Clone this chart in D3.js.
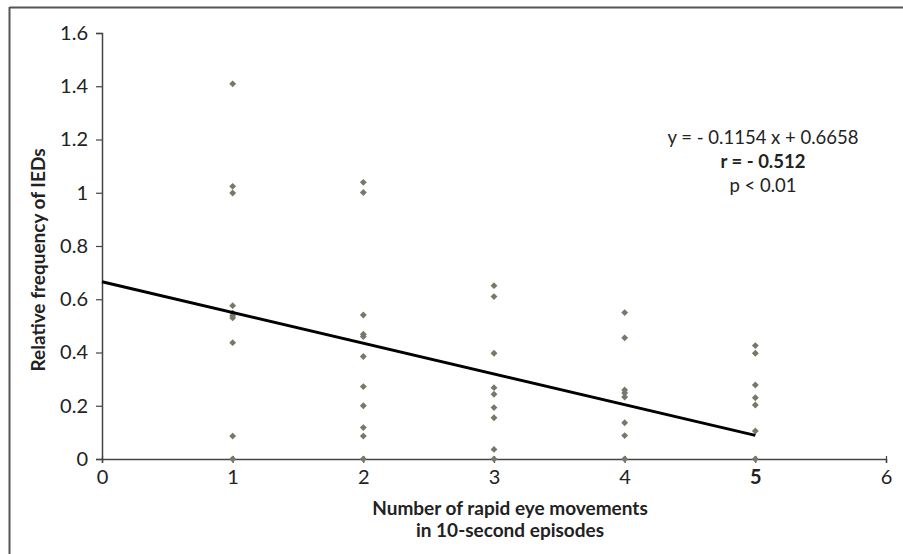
<!DOCTYPE html>
<html><head><meta charset="utf-8">
<script src="https://cdn.jsdelivr.net/npm/d3@7/dist/d3.min.js"></script>
<style>
body{margin:0;background:#fff;}
text{font-family:Lato,"Open Sans",sans-serif;fill:#222;}
</style></head>
<body><svg id="c" width="903" height="554"></svg>
<script>
const xTicks = [0,1,2,3,4,5,6];
const yTicks = [0,0.2,0.4,0.6,0.8,1,1.2,1.4,1.6];
const yTickLabels = ["0","0.2","0.4","0.6","0.8","1","1.2","1.4","1.6"];
const ptsX1 = [1.409,1.024,0.999,0.576,0.548,0.538,0.53,0.437,0.086,0];
const ptsX2 = [1.039,1.001,0.541,0.469,0.46,0.385,0.272,0.2,0.118,0.086,0];
const ptsX3 = [0.651,0.61,0.397,0.268,0.243,0.193,0.155,0.036,0];
const ptsX4 = [0.55,0.455,0.259,0.248,0.233,0.136,0.088,0];
const ptsX5 = [0.426,0.397,0.278,0.23,0.203,0.105,0];
const slope = -0.1154, intercept = 0.6658;
const trendRange = [0,5];
const eqLines = ["y = - 0.1154 x + 0.6658","r = - 0.512","p < 0.01"];
const xTitle = ["Number of rapid eye movements","in 10-second episodes"];
const yTitle = "Relative frequency of IEDs";

const svg = d3.select("#c");
const x = d3.scaleLinear().domain([0,6]).range([102,886]);
const y = d3.scaleLinear().domain([0,1.6]).range([459,33]);

// frame (top and left)
svg.append("line").attr("x1",9.5).attr("x2",903).attr("y1",7.5).attr("y2",7.5).attr("stroke","#555").attr("stroke-width",2);
svg.append("line").attr("x1",9.5).attr("x2",9.5).attr("y1",7).attr("y2",554).attr("stroke","#555").attr("stroke-width",2);

const ax = "#444";
// y axis
const gy = svg.append("g").attr("transform","translate(102,0)")
  .call(d3.axisLeft(y).tickValues(yTicks).tickSize(6).tickPadding(8).tickFormat((d,i)=>yTickLabels[i]));
gy.select(".domain").attr("stroke",ax).attr("stroke-width",1.5);
gy.selectAll(".tick line").attr("stroke",ax).attr("stroke-width",1.2);
gy.selectAll(".tick text").style("font-size","20px").style("font-family","Lato, sans-serif").attr("fill","#222");

// x axis
const gx = svg.append("g").attr("transform","translate(0,459)")
  .call(d3.axisBottom(x).tickValues(xTicks).tickSize(4).tickPadding(7).tickFormat(d3.format("d")));
gx.select(".domain").attr("stroke",ax).attr("stroke-width",1.5);
gx.selectAll(".tick line").attr("stroke",ax).attr("stroke-width",1.2).attr("y1",-3);
gx.selectAll(".tick text").style("font-size","20px").style("font-family","Lato, sans-serif").attr("fill","#222")
  .style("font-weight",d=>d===5?"bold":"normal");

// points
const groups = [[1,ptsX1],[2,ptsX2],[3,ptsX3],[4,ptsX4],[5,ptsX5]];
const pts = [];
groups.forEach(([xv,arr])=>arr.forEach(v=>pts.push({x:xv,y:v})));
const diamond = d3.symbol().type(d3.symbolDiamond2).size(30);
svg.append("g").selectAll("path").data(pts).join("path")
  .attr("d",diamond)
  .attr("transform",d=>`translate(${x(d.x)},${y(d.y)})`)
  .attr("fill","#76786a");

// trend line
svg.append("line")
  .attr("x1",x(trendRange[0])).attr("y1",y(intercept+slope*trendRange[0]))
  .attr("x2",x(trendRange[1])).attr("y2",y(intercept+slope*trendRange[1]))
  .attr("stroke","#000").attr("stroke-width",3);

// equation
const eq = svg.append("text").attr("text-anchor","middle").style("font-size","18.5px");
eqLines.forEach((t,i)=>{
  eq.append("tspan").attr("x",763).attr("y",144+i*24).text(t)
    .style("font-weight",i===1?"bold":"normal");
});

// axis titles
const xt = svg.append("text").attr("text-anchor","middle").style("font-size","19px").style("font-weight","bold");
xTitle.forEach((t,i)=>xt.append("tspan").attr("x",510).attr("y",515+i*22).text(t));
svg.append("text").attr("text-anchor","middle").style("font-size","19px").style("font-weight","bold")
  .attr("transform","translate(45,260) rotate(-90)").text(yTitle);
</script></body></html>
